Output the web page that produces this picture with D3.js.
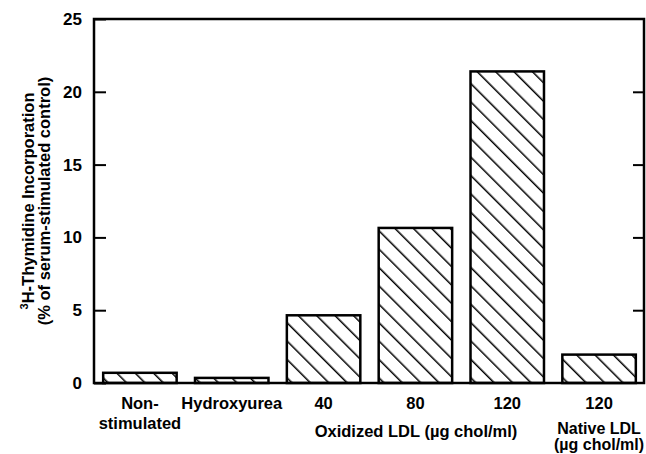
<!DOCTYPE html>
<html>
<head>
<meta charset="utf-8">
<script src="https://cdn.jsdelivr.net/npm/d3@7"></script>
<style>
  body { margin: 0; background: #fff; }
  text { font-family: "Liberation Sans", Arial, sans-serif; font-weight: bold; fill: #000; }
</style>
</head>
<body>
<div id="chart"></div>
<script>
// Data
const categories = ["Non-stimulated", "Hydroxyurea", "Ox40", "Ox80", "Ox120", "Native120"];
const values = [0.7, 0.35, 4.65, 10.65, 21.4, 1.95];
const tickLabels = [
  ["Non-", "stimulated"],
  ["Hydroxyurea"],
  ["40"],
  ["80"],
  ["120"],
  ["120"],
];
const yTicks = [0, 5, 10, 15, 20, 25];

const width = 646;
const height = 454;
const margin = { top: 19, right: 1, bottom: 71, left: 94 };

const svg = d3.select("#chart")
  .append("svg")
  .attr("width", width)
  .attr("height", height);

// Hatch pattern
const defs = svg.append("defs");
const pat = defs.append("pattern")
  .attr("id", "hatch")
  .attr("patternUnits", "userSpaceOnUse")
  .attr("width", 13)
  .attr("height", 13)
  .attr("patternTransform", "rotate(-45)");
pat.append("rect").attr("width", 13).attr("height", 13).attr("fill", "#fff");
pat.append("line")
  .attr("x1", 0).attr("y1", 0).attr("x2", 0).attr("y2", 13)
  .attr("stroke", "#000")
  .attr("stroke-width", 3);

// Scales
const xScale = d3.scaleBand()
  .domain(categories)
  .range([margin.left, width - margin.right])
  .paddingInner(0.2)
  .paddingOuter(0.1);

const yScale = d3.scaleLinear()
  .domain([0, 25])
  .range([height - margin.bottom, margin.top]);

// Bars
svg.append("g")
  .selectAll("rect")
  .data(values)
  .join("rect")
  .attr("x", (d, i) => xScale(categories[i]))
  .attr("y", (d) => yScale(d))
  .attr("width", xScale.bandwidth())
  .attr("height", (d) => yScale(0) - yScale(d))
  .attr("fill", "url(#hatch)")
  .attr("stroke", "#000")
  .attr("stroke-width", 2.5);

// Frame
svg.append("rect")
  .attr("x", margin.left)
  .attr("y", margin.top)
  .attr("width", width - margin.right - margin.left - 1)
  .attr("height", yScale(0) - margin.top)
  .attr("fill", "none")
  .attr("stroke", "#000")
  .attr("stroke-width", 2.5);

// Axes (ticks pointing inward on both sides)
const yAxis = d3.axisLeft(yScale).tickValues(yTicks).tickSizeInner(-12).tickSizeOuter(0).tickPadding(12);
const gy = svg.append("g")
  .attr("transform", `translate(${margin.left}, 0)`)
  .call(yAxis);
gy.select(".domain").remove();
gy.selectAll(".tick line").attr("stroke-width", 2);
gy.selectAll(".tick text")
  .style("font-size", "17px")
  .style("font-weight", "bold")
  .style("font-family", "'Liberation Sans', Arial, sans-serif");

const yAxisR = d3.axisRight(yScale).tickValues(yTicks.slice(1, 5)).tickSizeInner(-11).tickSizeOuter(0).tickFormat("");
const gyr = svg.append("g")
  .attr("transform", `translate(${width - margin.right - 1}, 0)`)
  .call(yAxisR);
gyr.select(".domain").remove();
gyr.selectAll(".tick line").attr("stroke-width", 2);

// Category labels
const labels = svg.append("g").style("font-size", "16.5px").attr("text-anchor", "middle");
tickLabels.forEach((lines, i) => {
  const cx = xScale(categories[i]) + xScale.bandwidth() / 2;
  lines.forEach((t, j) => {
    labels.append("text")
      .attr("x", cx)
      .attr("y", 409 + j * 20)
      .text(t);
  });
});

labels.append("text")
  .attr("x", 416)
  .attr("y", 437)
  .text("Oxidized LDL (\u00b5g chol/ml)");

const nx = xScale("Native120") + xScale.bandwidth() / 2;
labels.append("text").attr("x", nx).attr("y", 434).style("font-size", "16px").text("Native LDL");
labels.append("text").attr("x", nx).attr("y", 450).style("font-size", "16px").text("(\u00b5g chol/ml)");

// Y-axis title
const title = svg.append("text")
  .attr("transform", `translate(34, ${yScale(12.5)}) rotate(-90)`)
  .attr("text-anchor", "middle")
  .style("font-size", "16.5px");
title.append("tspan").attr("font-size", "11px").attr("dy", "-6").text("3");
title.append("tspan").attr("dy", "6").text("H-Thymidine Incorporation");
svg.append("text")
  .attr("transform", `translate(50, ${yScale(12.5)}) rotate(-90)`)
  .attr("text-anchor", "middle")
  .style("font-size", "16.5px")
  .text("(% of serum-stimulated control)");
</script>
</body>
</html>
